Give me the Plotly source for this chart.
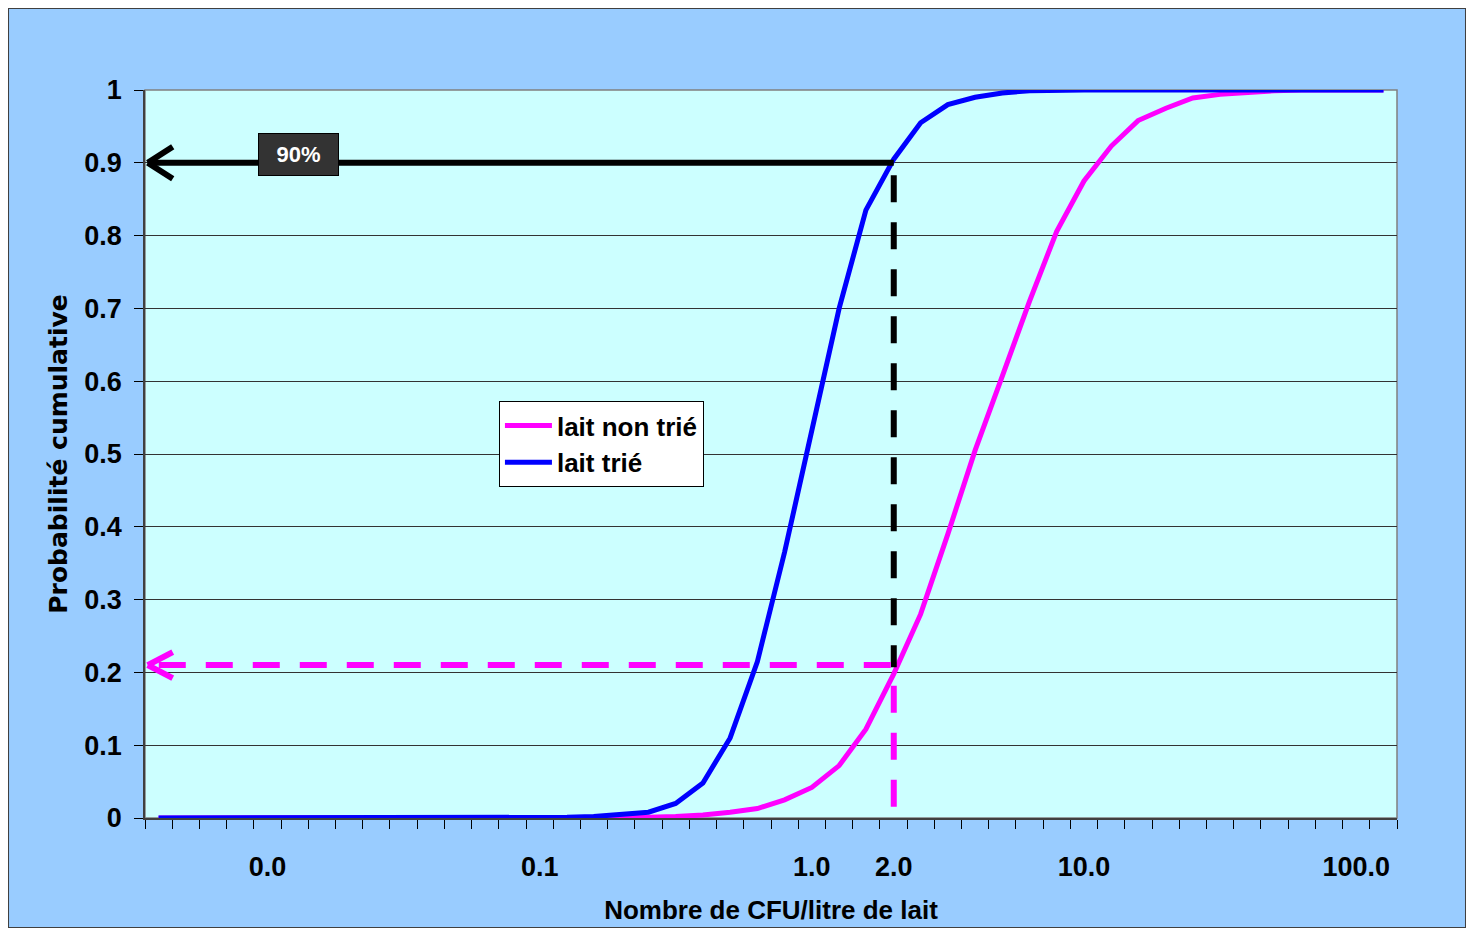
import plotly.graph_objects as go

# ---- data ----
cfu = [0.00398, 0.00501, 0.00631, 0.00794, 0.0100, 0.0126, 0.0158, 0.0200, 0.0251, 0.0316,
       0.0398, 0.0501, 0.0631, 0.0794, 0.100, 0.126, 0.158, 0.200, 0.251, 0.316,
       0.398, 0.501, 0.631, 0.794, 1.00, 1.26, 1.58, 2.00, 2.51, 3.16,
       3.98, 5.01, 6.31, 7.94, 10.0, 12.6, 15.8, 20.0, 25.1, 31.6,
       39.8, 50.1, 63.1, 79.4, 100.0, 126.0]

lait_non_trie = [0, 0, 0, 0, 0, 0, 0, 0, 0, 0,
                 0, 0, 0, 0, 0, 0, 0, 0.0, 0.001, 0.002,
                 0.004, 0.008, 0.013, 0.025, 0.042, 0.072, 0.122, 0.198, 0.28, 0.39,
                 0.505, 0.607, 0.71, 0.806, 0.875, 0.923, 0.958, 0.975, 0.989, 0.994,
                 0.997, 0.999, 1.0, 1.0, 1.0, 1.0]

lait_trie = [0, 0, 0, 0, 0, 0, 0, 0, 0, 0,
             0, 0, 0, 0, 0, 0.001, 0.002, 0.005, 0.008, 0.02,
             0.048, 0.11, 0.215, 0.365, 0.53, 0.70, 0.835, 0.905, 0.955, 0.98,
             0.99, 0.996, 0.999, 1.0, 1.0, 1.0, 1.0, 1.0, 1.0, 1.0,
             1.0, 1.0, 1.0, 1.0, 1.0, 1.0]

x_tick_vals = [0.01, 0.1, 1, 2, 10, 100]
x_tick_text = ["0.0", "0.1", "1.0", "2.0", "10.0", "100.0"]
y_tick_vals = [0, 0.1, 0.2, 0.3, 0.4, 0.5, 0.6, 0.7, 0.8, 0.9, 1]
y_tick_text = ["0", "0.1", "0.2", "0.3", "0.4", "0.5", "0.6", "0.7", "0.8", "0.9", "1"]

seuil_x = 2.0          # CFU/litre threshold
seuil_trie = 0.9       # cumulative probability, lait trié
seuil_non_trie = 0.21  # cumulative probability, lait non trié
label_90 = "90%"

PINK = "#FF00FF"
BLUE = "#0000FF"
FONT = "Liberation Sans"

x_range = [-2.45, 2.15]  # log10 range (46 categories of 0.1 decade)
boundaries = [10 ** (x_range[0] + 0.1 * k) for k in range(47)]
x_left = 10 ** (x_range[0] + 0.01)

fig = go.Figure()
fig.add_trace(go.Scatter(x=cfu, y=lait_non_trie, mode="lines", name="lait non trié",
                         line=dict(color=PINK, width=5)))
fig.add_trace(go.Scatter(x=cfu, y=lait_trie, mode="lines", name="lait trié",
                         line=dict(color=BLUE, width=5)))

shapes = []
# outer frame
shapes.append(dict(type="rect", xref="paper", yref="paper", x0=-0.1094, x1=1.0551, y0=-0.1511, y1=1.1126,
                   line=dict(color="#404040", width=2), fillcolor="rgba(0,0,0,0)", layer="below"))
# plot-area border (gray top/right)
shapes.append(dict(type="rect", xref="paper", yref="paper", x0=0, x1=1, y0=0, y1=1,
                   line=dict(color="#808080", width=1.5), fillcolor="rgba(0,0,0,0)", layer="between"))

dash = "27px,20px"
# black solid arrow at 0.9
shapes.append(dict(type="line", xref="x", yref="y", x0=x_left, x1=seuil_x, y0=seuil_trie, y1=seuil_trie,
                   line=dict(color="black", width=6)))
for s in (1, -1):
    shapes.append(dict(type="line", xref="x", yref="y", xsizemode="pixel", ysizemode="pixel",
                       xanchor=x_left, yanchor=seuil_trie, x0=0, x1=25, y0=0, y1=s * 16,
                       line=dict(color="black", width=6)))
# black dashed vertical from 0.9 down to 0.21
shapes.append(dict(type="line", xref="x", yref="y", x0=seuil_x, x1=seuil_x, y0=0.883, y1=seuil_non_trie - 0.003,
                   line=dict(color="black", width=6, dash=dash)))
# pink dashed vertical from bottom up to 0.21
shapes.append(dict(type="line", xref="x", yref="y", x0=seuil_x, x1=seuil_x, y0=0.0155, y1=0.185,
                   line=dict(color=PINK, width=6, dash=dash)))
# pink dashed horizontal arrow at 0.21
shapes.append(dict(type="line", xref="x", yref="y", x0=seuil_x * 0.975, x1=x_left, y0=seuil_non_trie, y1=seuil_non_trie,
                   line=dict(color=PINK, width=6, dash=dash)))
for s in (1, -1):
    shapes.append(dict(type="line", xref="x", yref="y", xsizemode="pixel", ysizemode="pixel",
                       xanchor=x_left, yanchor=seuil_non_trie, x0=0, x1=25, y0=0, y1=s * 13,
                       line=dict(color=PINK, width=6)))

annotations = [
    dict(text=label_90, xref="paper", yref="y", x=0.1226, y=0.911, showarrow=False,
         xanchor="center", yanchor="middle",
         font=dict(family=FONT, size=22, color="white", weight="bold"),
         bgcolor="#333333", bordercolor="black", borderwidth=1, borderpad=1,
         width=77, height=39, align="center", valign="middle"),
]

fig.update_layout(
    width=1458, height=920, autosize=False,
    margin=dict(l=137, r=69, t=82, b=110),
    paper_bgcolor="#99CCFF",
    plot_bgcolor="#CCFFFF",
    font=dict(family=FONT, size=26, color="black", weight="bold"),
    shapes=shapes,
    annotations=annotations,
    showlegend=True,
    legend=dict(x=0.2827, y=0.5728, xanchor="left", yanchor="top",
                bgcolor="white", bordercolor="black", borderwidth=1,
                itemwidth=47,
                font=dict(family=FONT, size=26, color="black", weight="bold"),
                traceorder="normal"),
    xaxis=dict(type="log", range=x_range, tickmode="array", tickvals=x_tick_vals, ticktext=x_tick_text,
               ticks="", showgrid=False, zeroline=False, automargin=False,
               showline=True, linecolor="#404040", linewidth=1.5,
               ticklabelstandoff=24,
               tickfont=dict(family=FONT, size=27, color="black", weight="bold"),
               minor=dict(tickmode="array", tickvals=boundaries, ticks="outside", ticklen=9,
                          tickwidth=1, tickcolor="black", showgrid=False),
               title=dict(text="Nombre de CFU/litre de lait", standoff=20,
                          font=dict(family=FONT, size=26, color="black", weight="bold"))),
    yaxis=dict(range=[0, 1], tickmode="array", tickvals=y_tick_vals, ticktext=y_tick_text,
               ticks="outside", ticklen=9, tickwidth=1, tickcolor="black",
               showgrid=True, gridcolor="#333333", gridwidth=1, zeroline=False, automargin=False,
               showline=True, linecolor="#404040", linewidth=1.5,
               ticklabelstandoff=7,
               tickfont=dict(family=FONT, size=27, color="black", weight="bold"),
               title=dict(text="Probabilité cumulative", standoff=10,
                          font=dict(family="DejaVu Sans", size=25, color="black", weight="bold"))),
)

fig.write_html("out.html")
